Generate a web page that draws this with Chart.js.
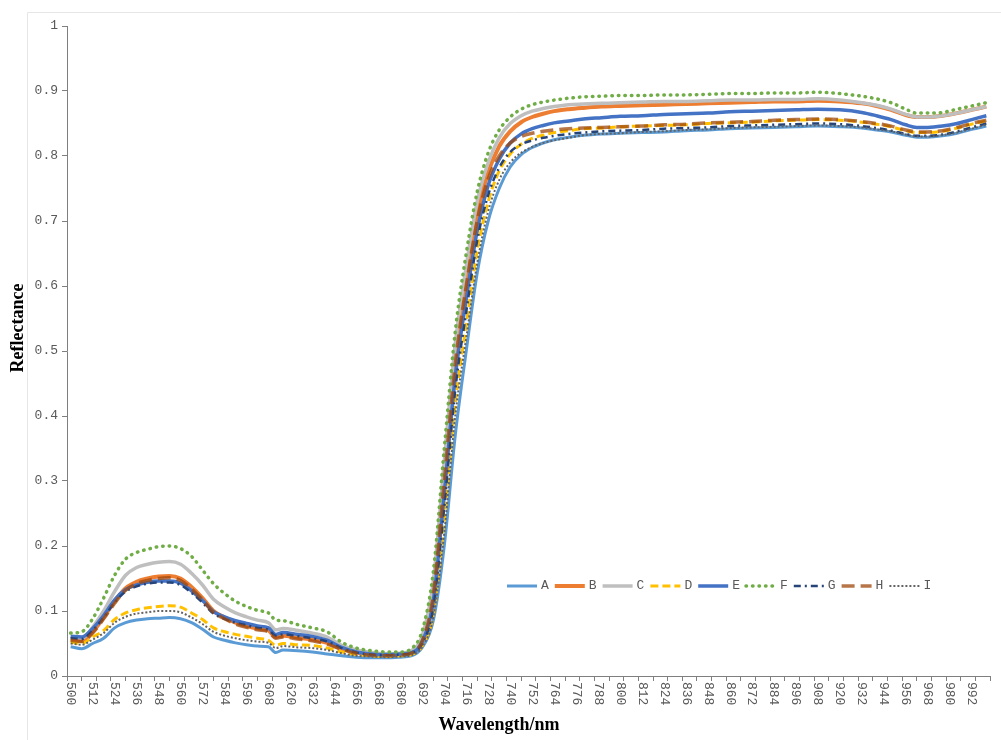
<!DOCTYPE html>
<html>
<head>
<meta charset="utf-8">
<script src="https://cdn.jsdelivr.net/npm/chart.js@4.4.1/dist/chart.umd.min.js"></script>
<style>
  body { margin: 0; background: #fff; }
  canvas { display: block; }
</style>
</head>
<body>
<canvas id="chart" width="1001" height="740"></canvas>
<script>
// wavelength samples (nm)
const wavelengths = [500, 506, 512, 518, 524, 530, 536, 542, 548, 554, 560, 566, 572, 578, 584, 590, 596, 602, 608, 612,
    616, 624, 632, 640, 648, 656, 664, 672, 680,
    686, 692, 698, 704, 710, 716, 722, 728, 734, 740, 746, 752, 758, 764, 772,
    780, 790, 800, 812, 824, 836, 848, 860, 872, 884, 896, 908, 920, 932, 940, 948, 956, 962, 968, 976, 984, 992, 1000];

// reflectance
const reflA = [0.045, 0.042, 0.050, 0.058, 0.074, 0.082, 0.086, 0.088, 0.089, 0.090, 0.088, 0.082, 0.072, 0.060, 0.055, 0.051, 0.048, 0.046, 0.045, 0.036,
    0.040, 0.039, 0.037, 0.034, 0.031, 0.029, 0.028, 0.028, 0.029,
    0.031, 0.044, 0.085, 0.200, 0.370, 0.500, 0.620, 0.700, 0.750, 0.783, 0.802, 0.813, 0.820, 0.825, 0.829,
    0.832, 0.834, 0.835, 0.836, 0.837, 0.839, 0.840, 0.842, 0.843, 0.844, 0.845, 0.846, 0.845, 0.843, 0.840, 0.837, 0.832, 0.829, 0.829, 0.831, 0.835, 0.841, 0.846];
const reflB = [0.056, 0.054, 0.068, 0.090, 0.115, 0.135, 0.145, 0.150, 0.153, 0.154, 0.150, 0.137, 0.120, 0.100, 0.090, 0.082, 0.077, 0.073, 0.070, 0.060,
    0.062, 0.059, 0.056, 0.051, 0.042, 0.036, 0.033, 0.032, 0.033,
    0.036, 0.056, 0.130, 0.310, 0.490, 0.610, 0.710, 0.775, 0.815, 0.838, 0.852, 0.860, 0.865, 0.869, 0.872,
    0.874, 0.876, 0.877, 0.878, 0.879, 0.880, 0.881, 0.882, 0.883, 0.884, 0.884, 0.885, 0.884, 0.881, 0.877, 0.871, 0.863, 0.860, 0.860, 0.862, 0.866, 0.871, 0.876];
const reflC = [0.060, 0.058, 0.075, 0.100, 0.130, 0.155, 0.167, 0.172, 0.175, 0.176, 0.172, 0.158, 0.140, 0.118, 0.106, 0.097, 0.091, 0.086, 0.082, 0.071,
    0.073, 0.070, 0.066, 0.060, 0.047, 0.040, 0.036, 0.034, 0.035,
    0.039, 0.062, 0.145, 0.330, 0.510, 0.630, 0.730, 0.790, 0.828, 0.850, 0.862, 0.869, 0.873, 0.876, 0.879,
    0.880, 0.881, 0.882, 0.883, 0.884, 0.884, 0.885, 0.886, 0.886, 0.887, 0.887, 0.888, 0.886, 0.882, 0.878, 0.872, 0.864, 0.860, 0.860, 0.862, 0.866, 0.871, 0.876];
const reflD = [0.052, 0.050, 0.060, 0.070, 0.087, 0.097, 0.102, 0.105, 0.107, 0.108, 0.106, 0.097, 0.087, 0.074, 0.068, 0.064, 0.061, 0.058, 0.055, 0.047,
    0.050, 0.048, 0.047, 0.043, 0.037, 0.033, 0.031, 0.030, 0.031,
    0.033, 0.047, 0.095, 0.240, 0.420, 0.540, 0.655, 0.730, 0.777, 0.803, 0.818, 0.827, 0.832, 0.836, 0.839,
    0.842, 0.843, 0.845, 0.846, 0.847, 0.848, 0.850, 0.851, 0.852, 0.854, 0.855, 0.856, 0.855, 0.852, 0.849, 0.845, 0.839, 0.836, 0.836, 0.838, 0.843, 0.849, 0.854];
const reflE = [0.061, 0.060, 0.073, 0.093, 0.117, 0.133, 0.140, 0.144, 0.146, 0.146, 0.143, 0.131, 0.116, 0.099, 0.091, 0.085, 0.081, 0.077, 0.074, 0.064,
    0.067, 0.064, 0.061, 0.055, 0.044, 0.037, 0.034, 0.033, 0.034,
    0.036, 0.053, 0.115, 0.280, 0.460, 0.580, 0.685, 0.755, 0.795, 0.820, 0.834, 0.842, 0.847, 0.851, 0.854,
    0.857, 0.859, 0.861, 0.862, 0.864, 0.865, 0.866, 0.868, 0.869, 0.870, 0.871, 0.872, 0.871, 0.867, 0.862, 0.856, 0.848, 0.844, 0.844, 0.846, 0.850, 0.856, 0.862];
const reflF = [0.066, 0.068, 0.088, 0.120, 0.155, 0.180, 0.190, 0.195, 0.199, 0.200, 0.196, 0.184, 0.163, 0.142, 0.127, 0.115, 0.107, 0.101, 0.097, 0.086,
    0.085, 0.079, 0.074, 0.068, 0.052, 0.043, 0.039, 0.037, 0.037,
    0.042, 0.070, 0.160, 0.350, 0.530, 0.650, 0.745, 0.805, 0.840, 0.860, 0.872, 0.879, 0.883, 0.886, 0.889,
    0.891, 0.892, 0.893, 0.893, 0.894, 0.894, 0.895, 0.896, 0.896, 0.897, 0.897, 0.898, 0.896, 0.892, 0.888, 0.882, 0.872, 0.866, 0.866, 0.867, 0.872, 0.877, 0.882];
const reflG = [0.058, 0.057, 0.070, 0.090, 0.113, 0.130, 0.138, 0.142, 0.144, 0.144, 0.140, 0.128, 0.113, 0.096, 0.088, 0.082, 0.078, 0.074, 0.071, 0.062,
    0.064, 0.061, 0.058, 0.053, 0.043, 0.036, 0.033, 0.032, 0.033,
    0.035, 0.050, 0.105, 0.260, 0.440, 0.560, 0.670, 0.740, 0.782, 0.806, 0.818, 0.824, 0.828, 0.831, 0.834,
    0.836, 0.838, 0.839, 0.840, 0.842, 0.843, 0.844, 0.846, 0.847, 0.848, 0.849, 0.850, 0.849, 0.846, 0.843, 0.839, 0.834, 0.831, 0.831, 0.833, 0.838, 0.844, 0.850];
const reflH = [0.055, 0.053, 0.066, 0.088, 0.112, 0.132, 0.142, 0.147, 0.150, 0.151, 0.147, 0.134, 0.117, 0.098, 0.088, 0.080, 0.075, 0.071, 0.068, 0.058,
    0.060, 0.057, 0.054, 0.049, 0.041, 0.035, 0.032, 0.031, 0.032,
    0.035, 0.054, 0.125, 0.300, 0.480, 0.600, 0.700, 0.765, 0.800, 0.820, 0.830, 0.835, 0.838, 0.840, 0.842,
    0.843, 0.844, 0.845, 0.846, 0.848, 0.849, 0.851, 0.852, 0.853, 0.855, 0.856, 0.857, 0.856, 0.853, 0.850, 0.846, 0.840, 0.837, 0.837, 0.839, 0.844, 0.850, 0.855];
const reflI = [0.050, 0.048, 0.056, 0.066, 0.082, 0.091, 0.096, 0.098, 0.100, 0.100, 0.098, 0.090, 0.080, 0.068, 0.062, 0.058, 0.055, 0.053, 0.051, 0.043,
    0.046, 0.044, 0.043, 0.040, 0.035, 0.031, 0.030, 0.029, 0.030,
    0.032, 0.045, 0.090, 0.220, 0.400, 0.520, 0.635, 0.715, 0.763, 0.790, 0.805, 0.814, 0.820, 0.824, 0.828,
    0.832, 0.834, 0.835, 0.837, 0.838, 0.840, 0.841, 0.843, 0.844, 0.845, 0.846, 0.847, 0.846, 0.844, 0.841, 0.838, 0.833, 0.830, 0.830, 0.832, 0.836, 0.842, 0.848];

const seriesNames = ['A', 'B', 'C', 'D', 'E', 'F', 'G', 'H', 'I'];
const seriesValues = [reflA, reflB, reflC, reflD, reflE, reflF, reflG, reflH, reflI];

const xLabelTicks = [500, 512, 524, 536, 548, 560, 572, 584, 596, 608, 620, 632, 644, 656, 668, 680, 692, 704, 716, 728, 740,
    752, 764, 776, 788, 800, 812, 824, 836, 848, 860, 872, 884, 896, 908, 920, 932, 944, 956, 968, 980, 992];
const yTickValues = [0, 0.1, 0.2, 0.3, 0.4, 0.5, 0.6, 0.7, 0.8, 0.9, 1];

// Excel-like line styles
const styles = [
    { color: '#5B9BD5', width: 3, dash: [], cap: 'butt' },
    { color: '#ED7D31', width: 4, dash: [], cap: 'butt' },
    { color: '#BFBFBF', width: 3.5, dash: [], cap: 'butt' },
    { color: '#FFC000', width: 3, dash: [8, 4], cap: 'butt' },
    { color: '#4472C4', width: 3.5, dash: [], cap: 'butt' },
    { color: '#70AD47', width: 3.5, dash: [0.5, 6], cap: 'round' },
    { color: '#264478', width: 2.5, dash: [7, 4, 2, 4], cap: 'butt' },
    { color: 'rgba(158, 72, 14, 0.75)', width: 3.5, dash: [13, 6], cap: 'butt' },
    { color: '#636363', width: 2, dash: [2, 2], cap: 'butt' }
];

const axisColor = '#7f7f7f';
const labelColor = '#595959';
const tickFont = '13px "Liberation Mono"';

const datasets = seriesNames.map((name, i) => ({
    label: name,
    data: wavelengths.map((w, j) => ({ x: w, y: seriesValues[i][j] })),
    borderColor: styles[i].color,
    borderWidth: styles[i].width,
    borderDash: styles[i].dash,
    borderCapStyle: styles[i].cap,
    pointRadius: 0,
    fill: false,
    cubicInterpolationMode: 'monotone',
    order: seriesNames.length - i
}));

// rotated x labels, axis titles, inline legend, chart frame
const decorations = {
    id: 'decorations',
    afterDraw(chart) {
        const { ctx, chartArea, scales } = chart;
        ctx.save();

        ctx.strokeStyle = '#e6e6e6';
        ctx.lineWidth = 1;
        ctx.beginPath();
        ctx.moveTo(27.5, 740);
        ctx.lineTo(27.5, 12.5);
        ctx.lineTo(1001, 12.5);
        ctx.stroke();

        ctx.fillStyle = labelColor;
        ctx.font = tickFont;
        ctx.textAlign = 'left';
        ctx.textBaseline = 'middle';
        xLabelTicks.forEach(w => {
            const x = scales.x.getPixelForValue(w);
            ctx.save();
            ctx.translate(x, chartArea.bottom + 6);
            ctx.rotate(Math.PI / 2);
            ctx.fillText(String(w), 0, 0);
            ctx.restore();
        });

        ctx.fillStyle = '#000';
        ctx.font = 'bold 18px "Liberation Serif"';
        ctx.textAlign = 'center';
        ctx.textBaseline = 'alphabetic';
        ctx.fillText('Wavelength/nm', 499, 730);
        ctx.save();
        ctx.translate(23, 328);
        ctx.rotate(-Math.PI / 2);
        ctx.fillText('Reflectance', 0, 0);
        ctx.restore();

        // legend inside plot
        const legendY = 586;
        ctx.font = tickFont;
        ctx.textAlign = 'left';
        ctx.textBaseline = 'middle';
        seriesNames.forEach((name, i) => {
            const x0 = 507 + i * 47.8;
            const s = styles[i];
            ctx.beginPath();
            ctx.setLineDash(s.dash);
            ctx.lineCap = s.cap;
            ctx.lineWidth = s.width;
            ctx.strokeStyle = s.color;
            ctx.moveTo(x0, legendY);
            ctx.lineTo(x0 + 30, legendY);
            ctx.stroke();
            ctx.setLineDash([]);
            ctx.fillStyle = labelColor;
            ctx.fillText(name, x0 + 34, legendY);
        });
        ctx.restore();
    }
};

new Chart(document.getElementById('chart'), {
    type: 'line',
    data: { datasets },
    options: {
        responsive: false,
        animation: false,
        devicePixelRatio: 1,
        layout: { padding: { top: 26, right: 11, left: 0, bottom: 0 } },
        plugins: {
            legend: { display: false },
            tooltip: { enabled: false }
        },
        scales: {
            x: {
                type: 'linear',
                min: 498,
                max: 1002,
                afterBuildTicks: scale => {
                    const t = [];
                    for (let v = 498; v <= 1002; v += 8) t.push({ value: v });
                    scale.ticks = t;
                },
                afterFit: scale => { scale.height = 64; },
                ticks: { display: false },
                grid: { drawOnChartArea: false, drawTicks: true, tickLength: 5, tickColor: axisColor },
                border: { color: axisColor, width: 1 }
            },
            y: {
                min: 0,
                max: 1,
                afterBuildTicks: scale => { scale.ticks = yTickValues.map(v => ({ value: v })); },
                afterFit: scale => { scale.width = 67; },
                ticks: {
                    color: labelColor,
                    font: { family: 'Liberation Mono', size: 13 },
                    padding: 4,
                    callback: v => String(Math.round(v * 10) / 10)
                },
                grid: { drawOnChartArea: false, drawTicks: true, tickLength: 5, tickColor: axisColor },
                border: { color: axisColor, width: 1 }
            }
        }
    },
    plugins: [decorations]
});
</script>
</body>
</html>
